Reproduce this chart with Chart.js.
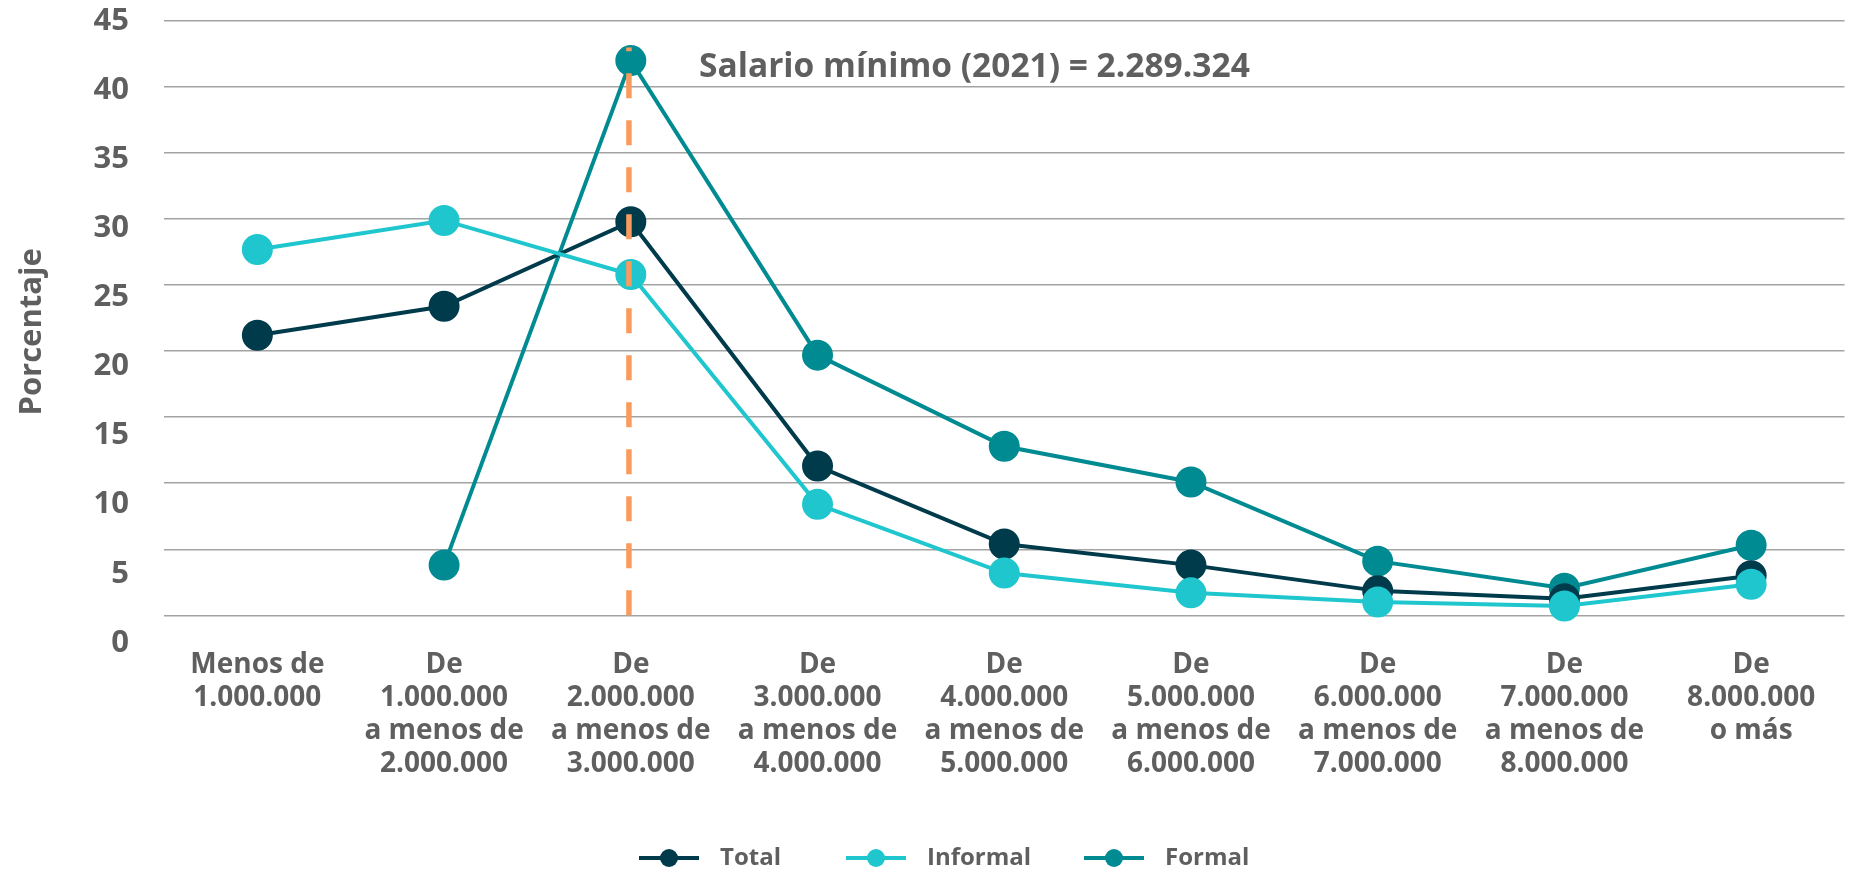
<!DOCTYPE html>
<html><head><meta charset="utf-8">
<script src="https://cdn.jsdelivr.net/npm/chart.js@4/dist/chart.umd.min.js"></script>
<style>html,body{margin:0;padding:0;background:#fff;overflow:hidden}</style>
</head><body>
<canvas id="c" width="1862" height="872"></canvas>
<script>
// ---- data ----
const categories = [
  ["Menos de", "1.000.000"],
  ["De", "1.000.000", "a menos de", "2.000.000"],
  ["De", "2.000.000", "a menos de", "3.000.000"],
  ["De", "3.000.000", "a menos de", "4.000.000"],
  ["De", "4.000.000", "a menos de", "5.000.000"],
  ["De", "5.000.000", "a menos de", "6.000.000"],
  ["De", "6.000.000", "a menos de", "7.000.000"],
  ["De", "7.000.000", "a menos de", "8.000.000"],
  ["De", "8.000.000", "o más"]
];
const totalValues    = [21.2, 23.4, 29.8, 11.3, 5.4, 3.8, 1.85, 1.25, 3.0];
const informalValues = [27.7, 29.9, 25.8, 8.4, 3.2, 1.7, 1.0, 0.7, 2.35];
const formalValues   = [null, 3.8, 42.0, 19.7, 12.8, 10.1, 4.1, 2.05, 5.3];
const seriesNames = ["Total", "Informal", "Formal"];
const yTickValues = [0, 5, 10, 15, 20, 25, 30, 35, 40, 45];
const yAxisTitle = "Porcentaje";
const minWageText = "Salario mínimo (2021) = 2.289.324";
const minWageCategoryPos = 1.99;
const minWageLineTop = 43;

// ---- style ----
const colTotal = "#003B4C", colInformal = "#1FC6CE", colFormal = "#008B92";
const textCol = "#5F5F5F";
const FONT = "'Open Sans'";

function ds(label, data, color, order) {
  return { label, data, borderColor: color, backgroundColor: color,
    pointBackgroundColor: color, pointBorderColor: color, pointRadius: 13.5,
    pointHoverRadius: 13.5, borderWidth: 4, tension: 0, order, spanGaps: false };
}

const overlay = {
  id: "overlay",
  afterDatasetsDraw(chart) {
    const ctx = chart.ctx, x = chart.scales.x, y = chart.scales.y;
    const px = x.getPixelForValue(minWageCategoryPos);
    ctx.save();
    ctx.strokeStyle = "#F99B5C";
    ctx.lineWidth = 5.5;
    ctx.setLineDash([25, 22]);
    ctx.beginPath();
    ctx.moveTo(px, y.getPixelForValue(0));
    ctx.lineTo(px, y.getPixelForValue(minWageLineTop));
    ctx.stroke();
    ctx.setLineDash([]);
    ctx.fillStyle = textCol;
    ctx.font = "bold 33.5px " + FONT;
    ctx.textBaseline = "middle";
    ctx.textAlign = "left";
    ctx.fillText(minWageText, 699, 67);
    ctx.restore();
  },
  afterDraw(chart) {
    const ctx = chart.ctx;
    const order = [0, 1, 2];
    const starts = [639, 846, 1084];
    const yy = 858;
    ctx.save();
    order.forEach((di, i) => {
      const d = chart.data.datasets[di];
      const sx = starts[i];
      ctx.strokeStyle = d.borderColor; ctx.lineWidth = 4;
      ctx.beginPath(); ctx.moveTo(sx, yy); ctx.lineTo(sx + 60, yy); ctx.stroke();
      ctx.fillStyle = d.borderColor;
      ctx.beginPath(); ctx.arc(sx + 30, yy, 9, 0, Math.PI * 2); ctx.fill();
      ctx.fillStyle = textCol;
      ctx.font = "bold 24px " + FONT;
      ctx.textBaseline = "middle"; ctx.textAlign = "left";
      ctx.fillText(d.label, sx + 81, yy);
    });
    ctx.restore();
  }
};

new Chart(document.getElementById("c"), {
  type: "line",
  data: {
    labels: categories,
    datasets: [
      ds(seriesNames[0], totalValues, colTotal, 1),
      ds(seriesNames[1], informalValues, colInformal, 0),
      ds(seriesNames[2], formalValues, colFormal, 2)
    ]
  },
  options: {
    responsive: false,
    animation: false,
    devicePixelRatio: 1,
    layout: { padding: { top: 21, right: 3, left: 0, bottom: 85 } },
    plugins: { legend: { display: false }, tooltip: { enabled: false } },
    scales: {
      x: {
        type: "category", offset: true,
        grid: { display: false, drawTicks: false },
        border: { display: false },
        ticks: { color: textCol, font: { family: FONT, weight: "bold", size: 28, lineHeight: 1.18 },
          padding: 6, maxRotation: 0, autoSkip: false }
      },
      y: {
        position: "left",
        min: -2.085, max: 45,
        afterBuildTicks: s => { s.ticks = yTickValues.map(v => ({ value: v })); },
        ticks: { display: false },
        grid: { color: "#A3A3A3", lineWidth: 1.5, drawTicks: false },
        border: { display: false },
        afterFit: s => { s.width = 0; s.paddingTop = 0; s.paddingBottom = 0; }
      },
      yLabels: {
        position: "left",
        min: 0, max: 45,
        afterBuildTicks: s => { s.ticks = yTickValues.map(v => ({ value: v })); },
        grid: { display: false, drawTicks: false },
        border: { display: false },
        ticks: { color: textCol, font: { family: FONT, weight: "bold", size: 31 }, padding: 35 },
        title: { display: true, text: yAxisTitle, color: textCol,
          font: { family: FONT, weight: "bold", size: 31 }, padding: { top: 14, bottom: 0 } },
        afterFit: s => { s.width = 164; s.paddingTop = 0; s.paddingBottom = 0; }
      }
    }
  },
  plugins: [overlay]
});
</script>
</body></html>
